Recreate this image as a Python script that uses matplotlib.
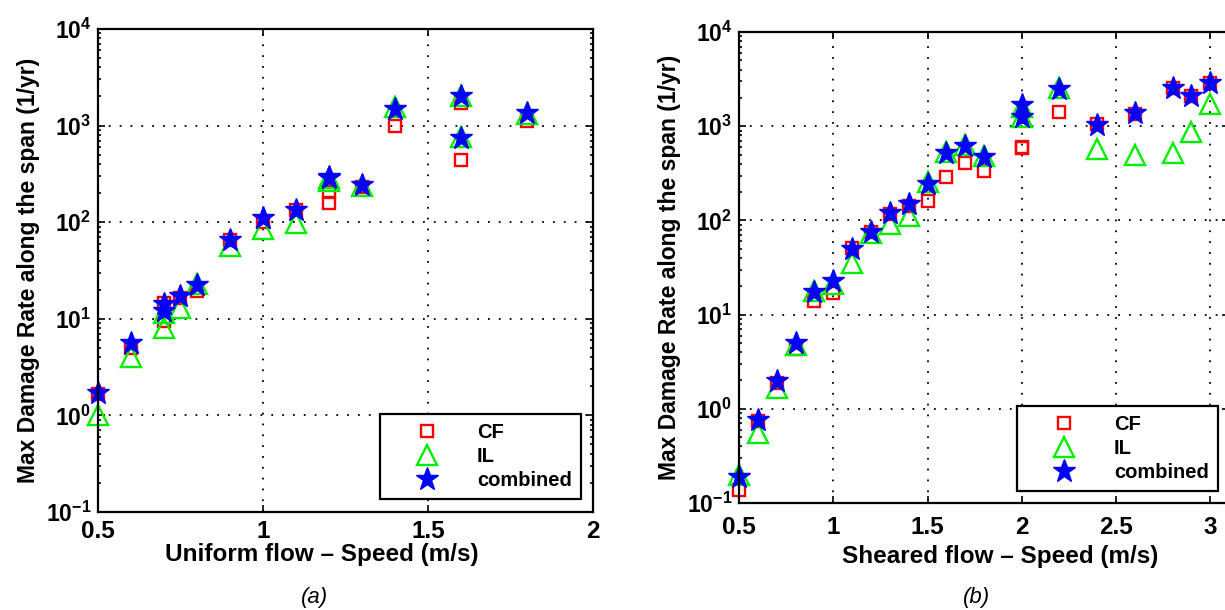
import matplotlib
matplotlib.use("Agg")
import matplotlib.pyplot as plt
import numpy as np
from matplotlib.ticker import LogLocator, NullFormatter

# Uniform flow (panel a)
u_speed = [0.5, 0.6, 0.7, 0.7, 0.75, 0.8, 0.9, 1.0, 1.1, 1.2, 1.2, 1.3, 1.4, 1.6, 1.6, 1.8]
u_cf = [1.65, 5.0, 14.7, 9.5, 16.5, 19.6, 66, 100, 135, 207, 159, 230, 1000, 1720, 443, 1110]
u_il = [1.0, 4.0, 11.5, 8.1, 13, 23, 56, 86, 99, 290, 270, 235, 1560, 2000, 760, 1320]
u_comb = [1.7, 5.6, 14.3, 12.1, 17.4, 22.5, 66, 111, 133, 296, 285, 243, 1490, 2000, 740, 1360]

# Sheared flow (panel b)
s_speed = [0.5, 0.6, 0.7, 0.8, 0.9, 1.0, 1.1, 1.2, 1.3, 1.4, 1.5, 1.6, 1.7, 1.8,
           2.0, 2.0, 2.2, 2.4, 2.6, 2.8, 2.9, 3.0]
s_cf = [0.139, 0.74, 1.86, 4.27, 13.9, 17.1, 51.5, 74.5, 118, 142, 162, 292, 410, 336,
        600, 590, 1430, 1050, 1340, 2570, 2100, 2900]
s_il = [0.196, 0.556, 1.67, 4.8, 17.8, 21, 35.7, 74, 91, 111, 256, 537, 630, 484,
        1590, 1240, 2570, 570, 490, 515, 860, 1740]
s_comb = [0.19, 0.77, 1.97, 4.95, 17.4, 22.7, 50, 75, 121, 149, 246, 526, 610, 476,
          1670, 1260, 2500, 1025, 1370, 2570, 2100, 2900]

series_labels = ["CF", "IL", "combined"]
y_ticks = [1e-1, 1e0, 1e1, 1e2, 1e3, 1e4]
y_ticklabels = [r"$\mathbf{10^{-1}}$", r"$\mathbf{10^{0}}$", r"$\mathbf{10^{1}}$",
                r"$\mathbf{10^{2}}$", r"$\mathbf{10^{3}}$", r"$\mathbf{10^{4}}$"]
u_xticks = [0.5, 1, 1.5, 2]
u_xticklabels = ["0.5", "1", "1.5", "2"]
s_xticks = [0.5, 1, 1.5, 2, 2.5, 3]
s_xticklabels = ["0.5", "1", "1.5", "2", "2.5", "3"]

plt.rcParams["font.family"] = ["Liberation Sans", "DejaVu Sans"]
plt.rcParams["mathtext.fontset"] = "custom"
plt.rcParams["mathtext.rm"] = "Liberation Sans"
plt.rcParams["mathtext.bf"] = "Liberation Sans:bold"
plt.rcParams["mathtext.it"] = "Liberation Sans:italic"

fig = plt.figure(figsize=(12.25, 6.1), dpi=100)
ax1 = fig.add_axes([0.080, 0.1607, 0.404, 0.7918])
ax2 = fig.add_axes([0.6033, 0.1754, 0.400, 0.772])


def draw(ax, x, cf, il, comb, xlim, xticks, xticklabels, xlabel, xpad, lpad, lx):
    ax.plot(x, cf, ls="none", marker="s", ms=9, mfc="none", mec="#ff0000", mew=1.7,
            label=series_labels[0], clip_on=False)
    ax.plot(x, il, ls="none", marker="^", ms=14.5, mfc="none", mec="#00ee00", mew=1.7,
            label=series_labels[1], clip_on=False)
    ax.plot(x, comb, ls="none", marker="*", ms=17, mfc="#0000ff", mec="#0000ff", mew=1.0,
            label=series_labels[2], clip_on=False)
    ax.set_yscale("log")
    ax.set_ylim(1e-1, 1e4)
    ax.set_xlim(*xlim)
    ax.set_yticks(y_ticks, y_ticklabels)
    ax.yaxis.set_minor_locator(LogLocator(base=10, subs=np.arange(2, 10)))
    ax.yaxis.set_minor_formatter(NullFormatter())
    ax.set_xticks(xticks, xticklabels)
    ax.tick_params(which="both", direction="in", top=True, right=True, width=1.2)
    ax.tick_params(which="major", length=5)
    ax.tick_params(axis="x", pad=xpad, labelsize=17.5)
    ax.tick_params(axis="y", pad=5, labelsize=16.5)
    ax.tick_params(which="minor", length=2.5)
    for lab in ax.get_xticklabels():
        lab.set_fontweight("bold")
    ax.grid(True, which="major", color="black", linestyle=(0, (1, 5)), linewidth=1.3)
    for sp in ax.spines.values():
        sp.set_linewidth(1.6)
    ax.set_xlabel(xlabel, fontsize=17.5, fontweight="bold", labelpad=lpad)
    ax.xaxis.label.set_x(lx)
    ax.set_ylabel("Max Damage Rate along the span (1/yr)", fontsize=16.5,
                  fontweight="bold", labelpad=4)


draw(ax1, u_speed, u_cf, u_il, u_comb, (0.5, 2.0), u_xticks, u_xticklabels,
     "Uniform flow \u2013 Speed (m/s)", 6, 0, 0.4525)
draw(ax2, s_speed, s_cf, s_il, s_comb, (0.5, 3.1), s_xticks, s_xticklabels,
     "Sheared flow \u2013 Speed (m/s)", 9, 5, 0.533)

for ax, anchor in [(ax1, (581 / 1225, 1 - 499 / 610)), (ax2, (1218 / 1225, 1 - 491 / 610))]:
    leg = ax.legend(loc="lower right", bbox_to_anchor=anchor,
                    bbox_transform=fig.transFigure, fancybox=False, framealpha=1,
                    edgecolor="black", prop={"weight": "bold", "size": 14.5},
                    handletextpad=0.6, borderpad=0.45, labelspacing=0.25,
                    handlelength=3.75, borderaxespad=0)
    leg.get_frame().set_linewidth(1.6)

fig.text(315 / 1225, 1 - 597 / 610, "(a)", fontsize=16, style="italic", ha="center", va="center")
fig.text(977 / 1225, 1 - 597 / 610, "(b)", fontsize=16, style="italic", ha="center", va="center")

fig.savefig("out.png", dpi=100)
